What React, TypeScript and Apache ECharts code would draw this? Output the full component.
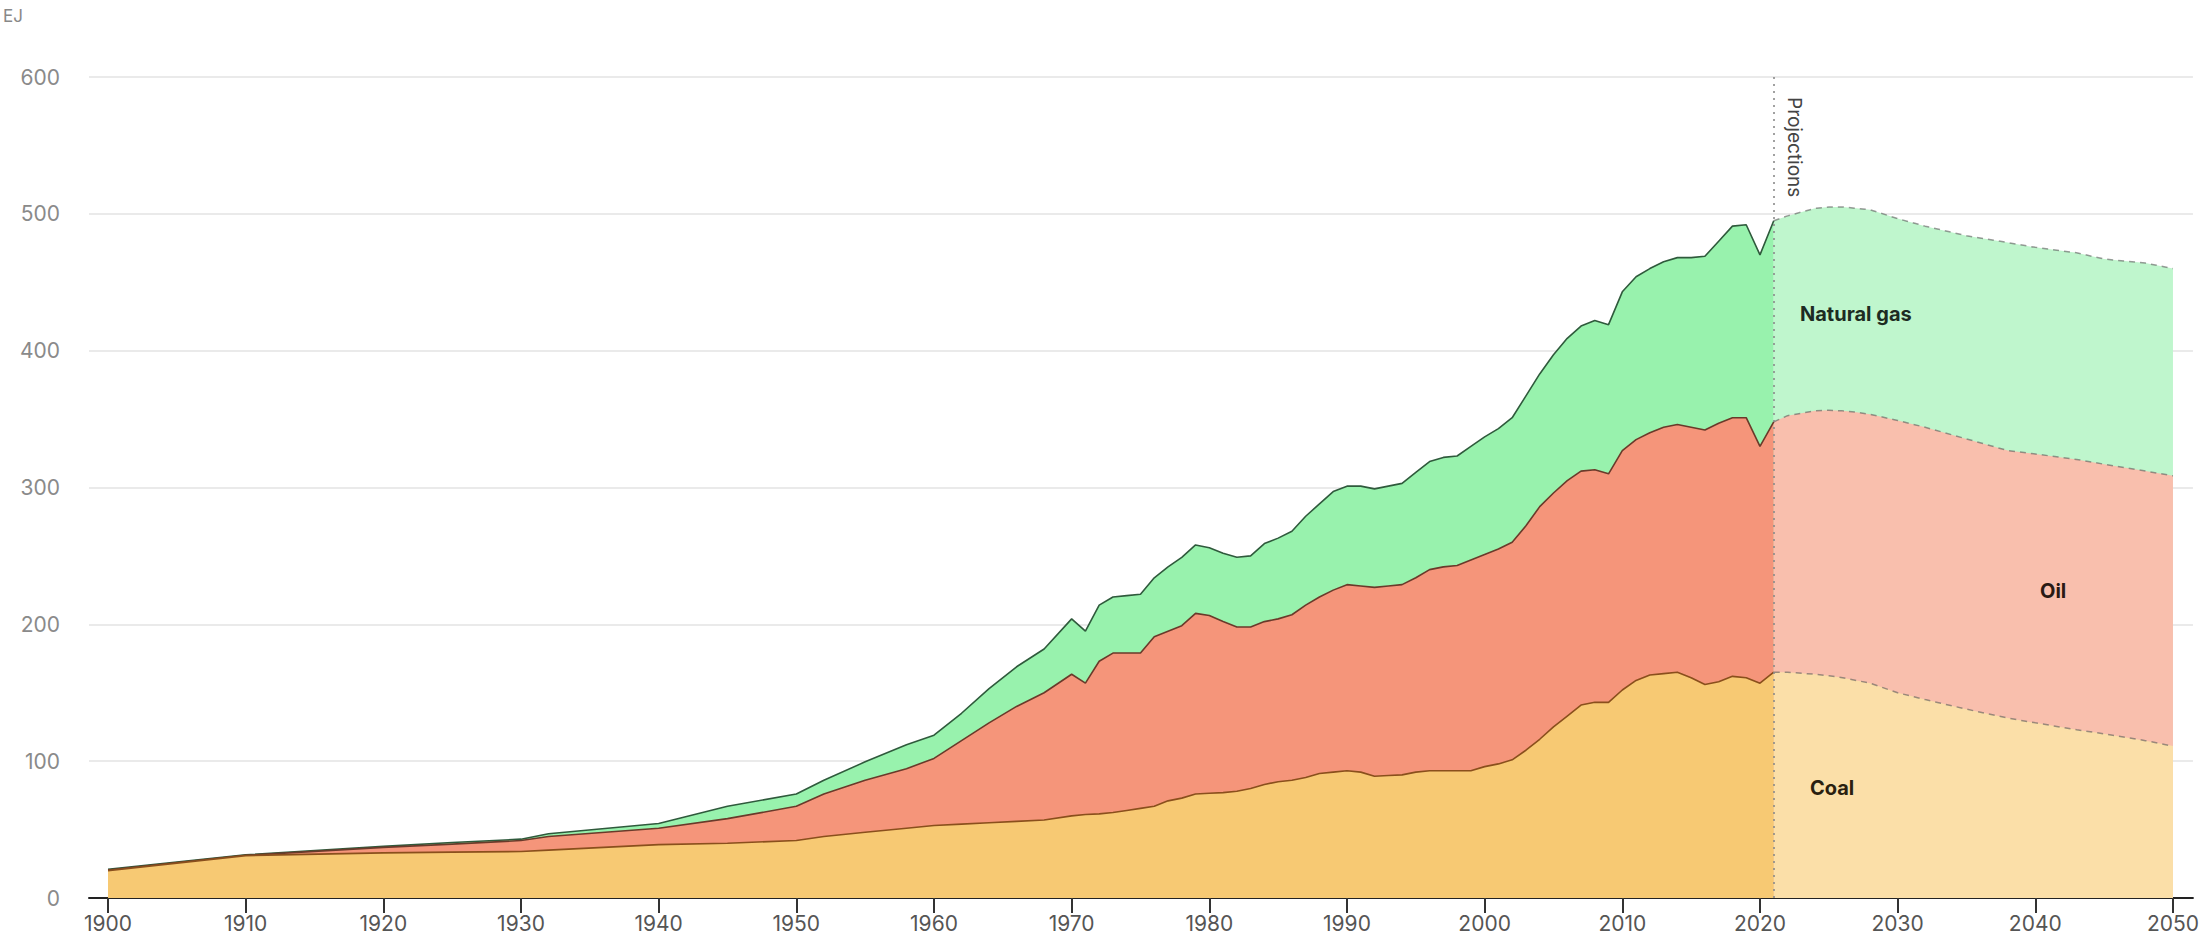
import React, { useEffect, useRef } from "react";
import * as echarts from "echarts";

// ---- Historical data (EJ) ----
const histYears = [
  1900, 1910, 1920, 1925, 1930, 1932, 1940, 1945, 1950, 1952, 1955, 1958, 1960, 1962, 1964, 1966, 1968,
  1970, 1971, 1972, 1973, 1974, 1975, 1976, 1977, 1978, 1979,
  1980, 1981, 1982, 1983, 1984, 1985, 1986, 1987, 1988, 1989,
  1990, 1991, 1992, 1993, 1994, 1995, 1996, 1997, 1998, 1999,
  2000, 2001, 2002, 2003, 2004, 2005, 2006, 2007, 2008, 2009,
  2010, 2011, 2012, 2013, 2014, 2015, 2016, 2017, 2018, 2019,
  2020, 2021,
];
const histCoal = [
  20, 31, 33, 33.5, 34, 35, 39, 40, 42, 45, 48, 51, 53, 54, 55, 56, 57,
  60, 61, 61.5, 62.5, 64, 65.5, 67, 71, 73, 76,
  76.5, 77, 78, 80, 83, 85, 86, 88, 91, 92,
  93, 92, 89, 89.5, 90, 92, 93, 93, 93, 93,
  96, 98, 101, 108, 116, 125, 133, 141, 143, 143,
  152, 159, 163, 164, 165, 161, 156, 158, 162, 161,
  157, 165,
];
const histOil = [
  0.5, 0.2, 4, 5.9, 8, 10, 12, 18, 25, 31, 38, 43.5, 49, 61, 73, 84, 93,
  103.5, 96, 111.5, 116.5, 115, 113.5, 124, 124, 126, 132,
  130, 125, 120, 118, 119, 119, 121, 126, 129, 133,
  136, 136, 138, 138.5, 139, 142, 147, 149, 150, 154,
  155, 157, 159, 164, 170, 171, 172, 171, 170, 167,
  175, 176, 177, 180, 181, 183, 186, 189, 189, 190,
  173, 183,
];
const histGas = [
  0.5, 0.3, 0.7, 1.2, 1, 2, 3.5, 9, 9, 10, 13.5, 17.5, 17, 20, 25, 29, 32,
  40.5, 38, 41, 41, 42, 43, 43, 47, 50, 50,
  49.5, 50, 51, 52, 57, 59, 61, 65, 68, 72,
  72, 73, 72, 73, 74, 77, 79, 80, 80, 83,
  86, 88, 91, 95, 97, 101, 104, 106, 109, 109,
  116, 119, 120, 121, 122, 124, 127, 133, 140, 141,
  140, 147,
];

// ---- Projections (EJ) ----
const projYears = [2021, 2022, 2024, 2025, 2026, 2027, 2028, 2030, 2032, 2035, 2038, 2040, 2043, 2045, 2048, 2050];
const projCoal = [165, 165, 163.5, 162.5, 161, 159, 157, 150, 145, 138, 131.5, 128, 123, 120, 115, 111];
const projOil = [183, 187.5, 192.5, 194, 195, 196, 196.5, 199, 199, 197.5, 195.5, 196.5, 197.5, 197, 197, 197.5];
const projGas = [147, 146, 148, 148.5, 149, 149, 149.5, 147.5, 147, 148.5, 152, 151, 151, 150, 152, 151.5];

// ---- Axis ticks ----
const xTickYears = [1900, 1910, 1920, 1930, 1940, 1950, 1960, 1970, 1980, 1990, 2000, 2010, 2020, 2030, 2040, 2050];
const projectionStart = 2021;

const FONT = "Inter, 'Noto Sans', sans-serif";

// cumulative stacking (layers drawn from the top layer down, each filled to zero)
const cumulative = (layers: number[][]) =>
  layers.map((_, k) => layers[0].map((__, i) => layers.slice(0, k + 1).reduce((s, l) => s + l[i], 0)));
const pair = (xs: number[], ys: number[]) => xs.map((x, i) => [x, ys[i]]);

export default function App() {
  const ref = useRef<HTMLDivElement>(null);

  useEffect(() => {
    if (!ref.current) return;
    const chart = echarts.init(ref.current, undefined, { renderer: "svg" });

    const [hC, hO, hG] = cumulative([histCoal, histOil, histGas]);
    const [pC, pO, pG] = cumulative([projCoal, projOil, projGas]);

    const histLine = (color: string) => ({ color, width: 1.6 });
    const projLine = { color: "rgba(90,90,90,0.6)", width: 1.5, type: [6, 5] as any };

    const mk = (name: string, xs: number[], ys: number[], line: any, fill: string, z: number) => ({
      name,
      type: "line",
      data: pair(xs, ys),
      symbol: "none",
      showSymbol: false,
      lineStyle: line,
      areaStyle: { color: fill, opacity: 1, origin: "start" },
      z,
    });

    const gasProj: any = mk("Natural gas (projection)", projYears, pG, projLine, "#BFF6CD", 1);
    const coalProj: any = mk("Coal (projection)", projYears, pC, projLine, "#FBDFA8", 3);
    coalProj.markLine = {
      silent: true,
      symbol: ["none", "none"],
      label: { show: false },
      lineStyle: { type: [2, 5] as any, color: "#8a8a8a", width: 1.6 },
      data: [{ xAxis: projectionStart }],
    };

    chart.setOption({
      animation: false,
      backgroundColor: "#ffffff",
      textStyle: { fontFamily: FONT },
      grid: { left: 89, right: 7, top: 77, bottom: 39, containLabel: false },
      xAxis: {
        type: "value",
        min: 1898.62,
        max: 2051.45,
        axisLine: { show: true, lineStyle: { color: "#222", width: 2 } },
        axisTick: {
          show: true,
          length: 15,
          lineStyle: { color: "#333", width: 2 },
          customValues: xTickYears,
        },
        axisLabel: {
          customValues: xTickYears,
          fontSize: 21,
          lineHeight: 22,
          color: "#555",
          margin: 14,
          fontFamily: FONT,
          formatter: (v: number) => String(v),
        },
        splitLine: { show: false },
      },
      yAxis: {
        type: "value",
        min: 0,
        max: 600,
        interval: 100,
        axisLine: { show: false },
        axisTick: { show: false },
        axisLabel: { fontSize: 21, color: "#8a8a8a", margin: 29, fontFamily: FONT },
        splitLine: { show: true, lineStyle: { color: "#e3e3e3", width: 1.5 } },
      },
      series: [
        mk("Natural gas", histYears, hG, histLine("#2f5a3c"), "#98F2AD", 1),
        mk("Oil", histYears, hO, histLine("#6a3a2a"), "#F5957A", 2),
        mk("Coal", histYears, hC, histLine("#8a4f1c"), "#F7C973", 3),
        gasProj,
        mk("Oil (projection)", projYears, pO, projLine, "#F9BFAD", 2),
        coalProj,
      ],
      graphic: [
        {
          type: "text",
          left: 3,
          top: 7,
          style: { text: "EJ", fontSize: 17, fill: "#888", fontFamily: FONT },
        },
        {
          type: "text",
          x: 1794,
          y: 97,
          rotation: -Math.PI / 2,
          style: {
            text: "Projections",
            fontSize: 19,
            fill: "#444",
            fontFamily: FONT,
            align: "left",
            verticalAlign: "middle",
          },
          z: 10,
        },
        {
          type: "text",
          x: 1800,
          y: 314,
          style: {
            text: "Natural gas",
            fontSize: 20,
            fontWeight: "bold",
            fill: "#1d2b22",
            fontFamily: FONT,
            verticalAlign: "middle",
          },
          z: 10,
        },
        {
          type: "text",
          x: 2040,
          y: 591,
          style: {
            text: "Oil",
            fontSize: 20,
            fontWeight: "bold",
            fill: "#2a1a14",
            fontFamily: FONT,
            verticalAlign: "middle",
          },
          z: 10,
        },
        {
          type: "text",
          x: 1810,
          y: 788,
          style: {
            text: "Coal",
            fontSize: 20,
            fontWeight: "bold",
            fill: "#2a1f10",
            fontFamily: FONT,
            verticalAlign: "middle",
          },
          z: 10,
        },
      ],
    });

    return () => {
      chart.dispose();
    };
  }, []);

  return (
    <div
      ref={ref}
      style={{ position: "absolute", left: 0, top: 0, width: 2202, height: 937, background: "#fff" }}
    />
  );
}
